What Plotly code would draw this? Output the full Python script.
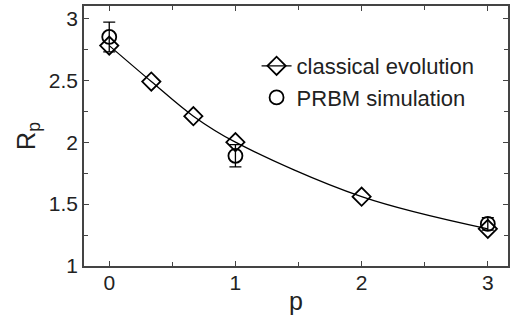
import plotly.graph_objects as go

p_classical = [0, 1/3, 2/3, 1, 2, 3]
r_classical = [2.78, 2.49, 2.21, 2.00, 1.56, 1.30]

p_prbm = [0, 1, 3]
r_prbm = [2.85, 1.89, 1.34]
r_prbm_err = [0.12, 0.09, 0.05]

x_ticks = [0, 1, 2, 3]
y_ticks = [1, 1.5, 2, 2.5, 3]

FONT = "Liberation Sans, Arial"

fig = go.Figure()
fig.add_trace(go.Scatter(
    x=p_classical, y=r_classical, mode="lines+markers", name="classical evolution",
    line=dict(color="black", width=1.3, shape="spline"),
    marker=dict(symbol="diamond-open", size=14, color="black", line=dict(width=1.8)),
))
fig.add_trace(go.Scatter(
    x=p_prbm, y=r_prbm, mode="markers", name="PRBM simulation",
    marker=dict(symbol="circle-open", size=14, color="black", line=dict(width=1.8)),
    error_y=dict(type="data", array=r_prbm_err, color="black", thickness=1.3, width=6),
))

axis_common = dict(
    showline=True, linecolor="#444", linewidth=1.5, mirror="ticks",
    ticks="inside", ticklen=5, tickwidth=1.3, tickcolor="#444",
    showgrid=False, zeroline=False,
    tickfont=dict(family=FONT, size=21, color="#222"),
)

fig.update_xaxes(range=[-0.2, 3.16], tickvals=x_ticks, ticklabelstandoff=-3,
                 minor=dict(ticks="inside", tickvals=[0.5, 1.5, 2.5], ticklen=4,
                            tickwidth=1.3, tickcolor="#444"),
                 title=dict(text="p", font=dict(family=FONT, size=25, color="#222"), standoff=0),
                 **axis_common)
fig.update_yaxes(range=[1, 3.1], tickvals=y_ticks,
                 minor=dict(ticks="inside", tickvals=[1.25, 1.75, 2.25, 2.75], ticklen=4,
                            tickwidth=1.3, tickcolor="#444"),
                 title=dict(text="R<sub>p</sub>", font=dict(family=FONT, size=25, color="#222"), standoff=6),
                 **axis_common)

fig.update_layout(
    width=514, height=321,
    margin=dict(l=84, r=4, t=5, b=55),
    paper_bgcolor="white", plot_bgcolor="white",
    showlegend=True,
    legend=dict(x=0.407, y=0.85, xanchor="left", yanchor="top",
                bgcolor="rgba(0,0,0,0)", tracegroupgap=0, itemwidth=30,
                font=dict(family=FONT, size=22, color="#222")),
)

fig.write_html("out.html")
